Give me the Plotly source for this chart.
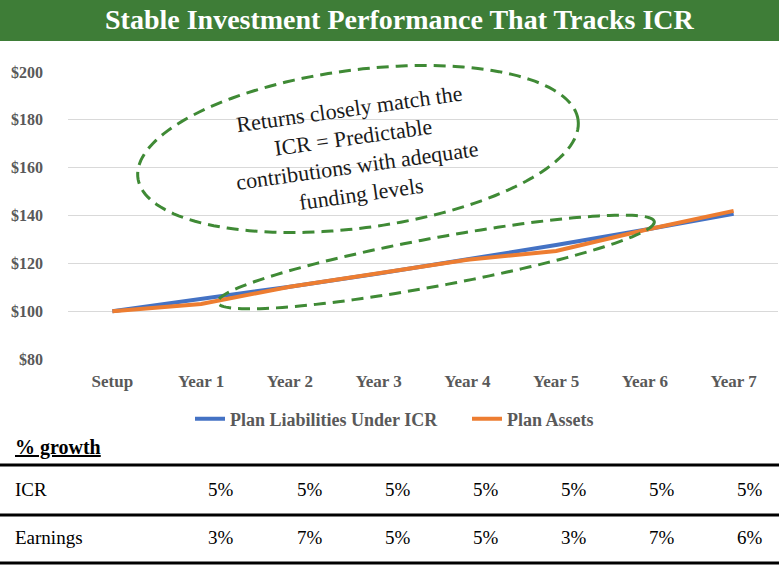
import numpy as np
import plotly.graph_objects as go

categories = ["Setup", "Year 1", "Year 2", "Year 3", "Year 4", "Year 5", "Year 6", "Year 7"]
liabilities = [100, 105, 110.25, 115.76, 121.55, 127.63, 134.01, 140.71]
assets = [100, 103, 110.21, 115.72, 121.50, 125.15, 133.91, 141.94]
icr_growth = ["5%", "5%", "5%", "5%", "5%", "5%", "5%"]
earnings_growth = ["3%", "7%", "5%", "5%", "3%", "7%", "6%"]
y_ticks = [80, 100, 120, 140, 160, 180, 200]

W, H = 779, 566
L, R, T, B = 68, 1, 72, 207
PW, PH = W - L - R, H - T - B

def px(x):
    return (x - L) / PW

def py(y):
    return 1 - (y - T) / PH

def ellipse_path(cx, cy, a, b, ang, n=160):
    th = np.deg2rad(ang)
    t = np.linspace(0, 2 * np.pi, n)
    xs = cx + a * np.cos(t) * np.cos(th) - b * np.sin(t) * np.sin(th)
    ys = cy + a * np.cos(t) * np.sin(th) + b * np.sin(t) * np.cos(th)
    pts = [f"{px(x):.5f},{py(y):.5f}" for x, y in zip(xs, ys)]
    return "M " + " L ".join(pts) + " Z"

SERIF = "Liberation Serif"
GRAY = "#595959"
GREEN = "#3F8A35"

fig = go.Figure()
fig.add_trace(go.Scatter(x=categories, y=liabilities, mode="lines",
                         name="<b>Plan Liabilities Under ICR</b>",
                         line=dict(color="#4472C4", width=4)))
fig.add_trace(go.Scatter(x=categories, y=assets, mode="lines",
                         name="<b>Plan Assets</b>",
                         line=dict(color="#ED7D31", width=4)))

shapes = []
shapes.append(dict(type="rect", xref="paper", yref="paper",
                   x0=px(0), x1=px(W), y0=py(41), y1=py(0),
                   fillcolor="#3E7D37", line=dict(width=0), layer="below"))
shapes.append(dict(type="path", xref="paper", yref="paper",
                   path=ellipse_path(358, 149, 222, 79, -7.5),
                   line=dict(color=GREEN, width=3, dash="12px,7px")))
shapes.append(dict(type="path", xref="paper", yref="paper",
                   path=ellipse_path(436, 262, 222, 24, -10.5),
                   line=dict(color=GREEN, width=3, dash="12px,7px")))
for yl in [465, 515, 563]:
    shapes.append(dict(type="line", xref="paper", yref="paper",
                       x0=px(0), x1=px(W), y0=py(yl), y1=py(yl),
                       line=dict(color="black", width=3)))

annotations = []
annotations.append(dict(xref="paper", yref="paper", x=px(400), y=py(20),
                        text="<b>Stable Investment Performance That Tracks ICR</b>",
                        showarrow=False, font=dict(family=SERIF, size=28, color="white"),
                        xanchor="center", yanchor="middle"))
annotations.append(dict(xref="paper", yref="paper", x=px(355), y=py(151),
                        text="Returns closely match the<br>ICR = Predictable<br>contributions with adequate<br>funding levels",
                        showarrow=False, textangle=-8,
                        font=dict(family=SERIF, size=22, color="#1a1a1a"),
                        xanchor="center", yanchor="middle"))
annotations.append(dict(xref="paper", yref="paper", x=px(13), y=py(447),
                        text="<b><u>% growth</u></b>", showarrow=False,
                        font=dict(family=SERIF, size=20, color="black"),
                        xanchor="left", yanchor="middle"))
col_x = [221, 310, 398, 486, 574, 662, 750]
for label, vals, yrow in [("ICR", icr_growth, 489), ("Earnings", earnings_growth, 537)]:
    annotations.append(dict(xref="paper", yref="paper", x=px(13), y=py(yrow),
                            text=label, showarrow=False,
                            font=dict(family=SERIF, size=19, color="black"),
                            xanchor="left", yanchor="middle"))
    for cx, v in zip(col_x, vals):
        annotations.append(dict(xref="paper", yref="paper", x=px(cx), y=py(yrow),
                                text=v, showarrow=False,
                                font=dict(family=SERIF, size=19, color="black"),
                                xanchor="center", yanchor="middle"))

fig.update_layout(
    width=W, height=H,
    margin=dict(l=L, r=R, t=T, b=B, pad=0),
    paper_bgcolor="white", plot_bgcolor="white",
    shapes=shapes, annotations=annotations,
    showlegend=True,
    legend=dict(orientation="h", x=px(467), y=py(419), xanchor="center", yanchor="middle",
                font=dict(family=SERIF, size=18, color=GRAY), itemwidth=30,
                entrywidth=232, entrywidthmode="pixels",
                bgcolor="rgba(0,0,0,0)"),
    xaxis=dict(type="category", range=[-0.5, 7.5], showgrid=False, zeroline=False,
               showline=False, ticks="", tickfont=dict(family=SERIF, size=17, color=GRAY),
               ticklabelstandoff=10, fixedrange=True,
               tickvals=categories, ticktext=[f"<b>{c}</b>" for c in categories]),
    yaxis=dict(range=[80, 200], tickvals=y_ticks, ticktext=[f"<b>${v}</b>" for v in y_ticks],
               showgrid=True, gridcolor="#D9D9D9", gridwidth=1, zeroline=False,
               showline=False, ticks="", tickfont=dict(family=SERIF, size=16, color=GRAY),
               ticklabelstandoff=24, fixedrange=True),
)

fig.write_html("out.html", config={"displayModeBar": False},
               post_script="document.body.style.margin='0';document.body.style.overflow='hidden';")
